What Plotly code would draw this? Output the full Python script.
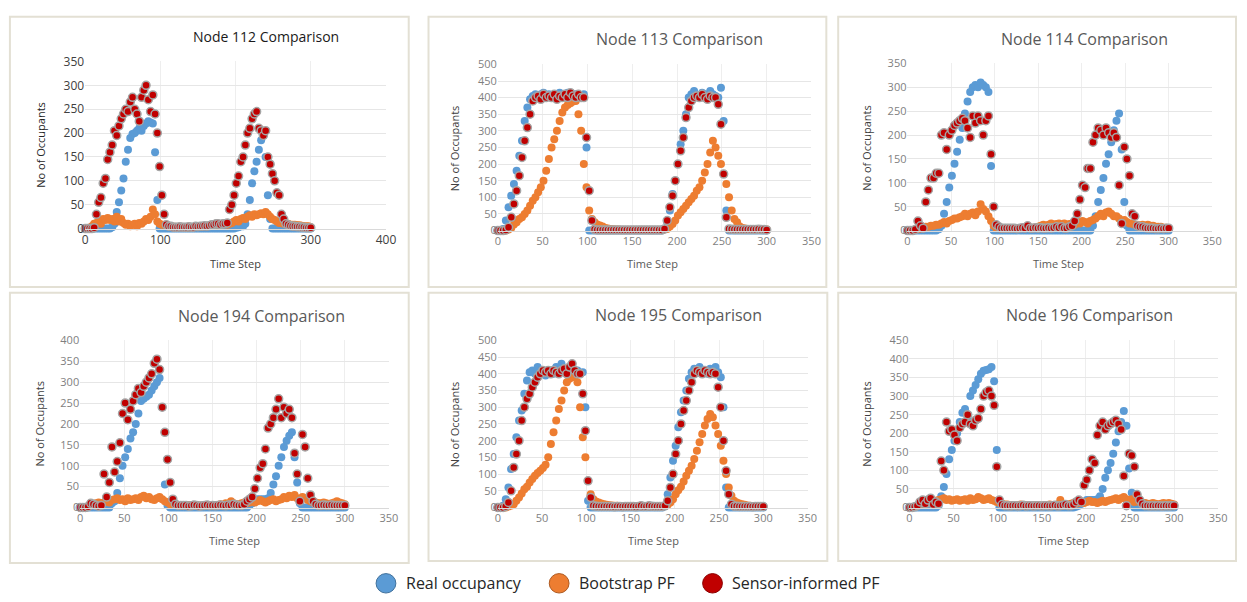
import plotly.graph_objects as go

W, H = 1247, 602
TIME = list(range(0, 301, 3))

# ---------------- Node 112 ----------------
n112_real = [0,0,0,0,0,0,0,0,0,0,
             0,0,3,10,35,55,80,105,140,165,
             190,198,200,205,210,205,215,220,225,222,
             220,160,60,0,0,0,0,0,0,0,
             0,0,0,0,0,0,0,0,0,0,
             0,0,0,0,0,0,0,0,0,0,
             0,0,0,0,0,0,0,2,3,5,
             5,10,30,60,95,120,140,165,185,200,
             150,70,20,0,0,0,0,0,0,0,
             0,0,0,0,0,0,0,0,0,0,
             0]
n112_boot = [0,0,2,5,10,12,15,10,20,18,
             22,18,20,15,25,15,20,12,8,10,
             5,8,10,5,12,10,15,20,18,25,
             40,30,15,10,8,8,6,5,5,4,
             4,3,3,3,3,2,3,3,3,4,
             4,5,5,5,6,6,7,7,8,8,
             8,9,10,8,10,12,15,18,15,20,
             22,20,25,28,25,30,28,30,32,30,
             35,30,25,20,18,15,12,12,10,10,
             10,8,8,8,7,7,6,5,5,5,
             3]
n112_sens = [0,0,0,0,2,30,55,65,95,105,
             145,160,175,205,195,215,230,240,250,245,
             265,275,250,240,225,275,290,300,270,245,
             280,240,200,130,70,30,8,5,5,3,
             3,3,4,3,3,3,4,3,3,5,
             4,5,5,6,5,6,8,8,10,10,
             8,10,10,12,40,50,70,95,110,140,
             150,175,200,210,230,240,245,210,205,195,
             205,150,135,115,100,75,70,30,20,10,
             8,6,5,5,4,4,3,3,2,2,
             2]

# ---------------- Node 113 ----------------
n113_real = [0,0,5,30,70,105,140,180,225,270,
             330,370,395,405,410,400,410,415,405,410,
             400,410,405,415,410,400,415,410,405,410,
             405,400,410,250,0,0,0,0,0,0,
             0,0,0,0,0,0,0,0,0,0,
             0,0,0,0,0,0,0,0,0,0,
             0,0,5,25,60,110,150,200,260,300,
             350,400,410,420,405,400,415,410,400,420,
             410,405,400,430,330,60,0,0,0,0,
             0,0,0,0,0,0,0,0,0,0,
             0]
n113_boot = [0,0,0,0,3,8,18,25,35,40,
             50,60,75,90,100,115,130,150,180,215,
             250,275,300,330,355,370,378,383,388,390,
             350,300,200,130,60,35,25,18,15,12,
             8,6,5,4,3,3,2,2,2,2,
             2,2,2,2,2,2,2,2,2,2,
             2,2,3,5,12,20,30,45,55,65,
             75,85,95,105,120,130,150,175,200,235,
             270,250,225,200,170,140,100,60,35,25,
             12,8,6,5,5,4,4,4,3,3,
             3]
n113_sens = [0,0,0,2,10,40,80,120,165,220,
             270,310,350,390,400,405,395,410,400,405,
             400,410,395,405,400,410,400,415,405,400,
             410,400,400,280,120,30,3,2,2,2,
             2,2,2,2,2,2,2,2,2,2,
             2,2,2,2,2,2,2,2,2,2,
             2,2,5,30,70,105,150,200,240,280,
             340,370,390,400,405,400,410,400,395,405,
             400,400,380,320,170,40,5,4,3,3,
             3,3,3,3,3,3,3,4,3,3,
             2]

# ---------------- Node 114 ----------------
n114_real = [0,0,0,0,0,0,0,0,0,0,
             0,0,3,10,35,60,90,115,140,165,
             190,215,245,270,290,300,305,300,310,305,
             300,290,135,0,0,0,0,0,0,0,
             0,0,0,0,0,0,0,0,0,0,
             0,0,0,0,0,0,0,0,0,0,
             0,0,0,0,0,0,0,0,0,0,
             0,10,30,60,85,110,140,160,185,210,
             230,245,170,60,10,0,0,0,0,0,
             0,0,0,0,0,0,0,0,0,0,
             0]
n114_boot = [0,0,0,2,3,5,5,8,8,10,
             10,12,12,15,18,15,20,22,25,25,
             28,30,35,30,35,38,32,40,55,45,
             40,30,20,10,5,5,4,5,5,4,
             5,5,4,5,6,5,6,5,6,6,
             8,10,12,10,12,15,12,14,15,12,
             15,12,14,15,12,18,15,20,18,15,
             20,22,25,30,35,30,38,40,35,30,
             30,25,20,22,18,15,15,12,12,10,
             12,10,12,10,10,8,8,8,6,6,
             5]
n114_sens = [0,0,0,2,20,10,5,60,85,110,
             110,120,120,200,205,170,200,210,220,225,
             230,235,230,215,195,240,225,240,230,200,
             230,240,160,50,12,8,5,5,5,5,
             5,5,4,5,6,5,10,5,5,6,
             5,6,5,5,6,5,6,8,6,8,
             5,5,8,10,20,35,65,95,90,130,
             130,185,200,215,210,200,215,205,195,205,
             195,95,15,175,150,115,35,30,10,8,
             8,6,5,5,5,4,4,5,4,5,
             5]

# ---------------- Node 194 ----------------
n194_real = [0,0,0,0,0,0,0,0,0,0,
             0,0,10,15,35,70,100,120,140,165,
             180,200,225,255,260,265,270,280,290,300,
             310,240,55,5,0,0,0,0,0,0,
             0,0,0,0,0,0,0,0,0,0,
             0,0,0,0,0,0,0,0,0,0,
             0,0,0,0,5,10,15,20,20,20,
             20,22,35,55,75,100,120,145,160,172,
             180,120,60,10,0,0,0,0,0,0,
             0,0,0,0,0,0,0,0,0,0,
             0]
n194_boot = [0,0,0,3,5,8,10,12,10,12,
             15,12,18,20,22,18,20,15,22,18,
             20,22,18,25,28,22,25,20,18,22,
             25,20,15,12,8,10,8,6,5,6,
             5,6,4,5,6,5,4,5,6,5,
             5,6,5,8,6,10,8,15,10,8,
             8,10,12,10,12,15,12,15,18,15,
             12,15,18,20,15,18,20,25,22,28,
             25,30,22,20,25,22,18,15,12,12,
             10,10,12,10,8,10,12,15,12,10,
             8]
n194_sens = [0,0,0,2,10,8,5,3,5,80,
             25,60,145,85,110,155,225,250,210,235,
             255,270,285,275,290,300,310,320,345,355,
             330,240,180,115,60,20,8,5,5,5,
             5,3,4,6,5,3,4,5,6,4,
             5,4,5,6,5,4,6,5,8,6,
             5,5,8,15,20,25,45,70,95,105,
             140,190,200,215,235,260,215,240,225,235,
             215,130,80,15,175,145,70,30,15,8,
             5,5,6,5,5,6,5,5,5,5,
             5]

# ---------------- Node 195 ----------------
n195_real = [0,0,5,25,60,115,160,210,260,290,
             340,380,405,410,400,420,410,400,395,405,
             410,400,420,405,430,410,400,415,405,410,
             410,400,405,300,20,0,0,0,0,0,
             0,0,0,0,0,0,0,0,0,0,
             0,0,0,0,0,0,0,0,0,0,
             0,0,0,5,40,90,140,185,240,285,
             320,350,385,405,415,410,420,405,410,400,
             415,410,420,405,390,300,60,0,0,0,
             0,0,0,0,0,0,0,0,0,0,
             0]
n195_boot = [0,0,0,0,3,6,10,20,30,42,
             55,62,75,85,95,103,110,118,128,150,
             190,225,260,295,320,350,375,385,390,393,
             375,300,210,150,80,40,25,18,15,12,
             10,8,7,6,5,5,4,4,3,3,
             3,3,3,3,3,3,3,3,3,3,
             3,3,3,5,8,15,25,40,52,62,
             78,95,110,125,145,170,195,220,245,265,
             280,270,245,220,185,140,100,60,35,20,
             15,12,10,8,6,5,4,4,3,3,
             3]
n195_sens = [0,0,0,3,15,50,120,160,200,260,
             300,325,340,360,375,390,400,410,405,410,
             400,410,405,400,410,415,400,420,430,410,
             400,400,340,230,80,30,5,4,3,3,
             3,3,3,3,2,3,3,2,3,3,
             3,3,2,3,5,3,3,5,4,3,
             3,3,3,5,20,60,100,160,200,250,
             290,320,350,375,400,410,405,400,410,405,
             400,405,400,360,300,200,110,40,10,4,
             4,3,3,3,3,3,2,3,3,3,
             3]

# ---------------- Node 196 ----------------
n196_real = [0,0,0,0,0,0,0,0,0,0,
             0,5,30,55,90,130,155,180,200,230,
             255,265,240,300,315,330,345,360,368,370,
             372,378,340,155,0,0,0,0,0,0,
             0,0,0,0,0,0,0,0,0,0,
             0,0,0,0,0,0,0,0,0,0,
             0,0,0,2,5,10,15,20,20,20,
             20,22,30,50,80,100,120,145,175,205,
             230,260,220,105,40,0,0,0,0,0,
             0,0,0,0,0,0,0,0,0,0,
             0]
n196_boot = [0,0,2,5,8,10,12,15,12,15,
             18,20,22,25,20,22,18,20,22,18,
             20,22,18,25,20,22,28,25,20,22,
             25,20,18,15,12,10,8,8,6,5,
             5,6,8,5,6,5,4,6,5,6,
             5,6,5,8,6,5,8,20,10,8,
             8,10,12,10,12,15,12,15,18,15,
             15,12,15,18,15,18,20,22,25,20,
             25,28,22,20,22,15,18,15,12,12,
             10,10,12,10,8,10,12,10,12,10,
             8]
n196_sens = [0,0,2,5,15,20,10,20,25,8,
             15,10,125,100,230,205,210,195,180,215,
             225,230,250,225,220,235,240,265,300,310,
             315,300,275,110,20,8,5,5,4,5,
             5,4,5,6,4,5,5,4,5,5,
             4,5,5,4,5,6,4,5,6,8,
             5,5,8,15,20,15,60,75,100,130,
             120,195,220,230,210,220,225,230,235,225,
             210,85,5,145,140,110,35,20,10,5,
             5,4,5,4,5,4,4,5,4,5,
             5]

SERIES_NAMES = ["Real occupancy", "Bootstrap PF", "Sensor-informed PF"]
BLUE, ORANGE, RED, GREY = "#5B9BD5", "#ED7D31", "#C00000", "#A5A5A5"

PANELS = [
    dict(title="Node 112 Comparison", real=n112_real, boot=n112_boot, sens=n112_sens,
         xmax=400, xd=100, ymax=350, px=(83, 387), py=(226, 54), box=(7, 8, 410, 286),
         t=(266, 28), yt=(37, 140), xt=(235, 262), dark=True),
    dict(title="Node 113 Comparison", real=n113_real, boot=n113_boot, sens=n113_sens,
         xmax=350, xd=50, ymax=500, px=(500, 817), py=(228, 57), box=(430, 8, 832, 286),
         t=(684, 31), yt=(457, 143), xt=(656, 262), dark=False),
    dict(title="Node 114 Comparison", real=n114_real, boot=n114_boot, sens=n114_sens,
         xmax=350, xd=50, ymax=350, px=(914, 1222), py=(228, 56), box=(844, 8, 1246, 286),
         t=(1093, 31), yt=(873, 143), xt=(1067, 262), dark=False),
    dict(title="Node 194 Comparison", real=n194_real, boot=n194_boot, sens=n194_sens,
         xmax=350, xd=50, ymax=400, px=(78, 390), py=(513, 341), box=(7, 292, 410, 570),
         t=(261, 316), yt=(37, 427), xt=(234, 547), dark=False),
    dict(title="Node 195 Comparison", real=n195_real, boot=n195_boot, sens=n195_sens,
         xmax=350, xd=50, ymax=500, px=(500, 813), py=(513, 341), box=(430, 292, 833, 568),
         t=(683, 315), yt=(457, 427), xt=(657, 547), dark=False),
    dict(title="Node 196 Comparison", real=n196_real, boot=n196_boot, sens=n196_sens,
         xmax=350, xd=50, ymax=450, px=(916, 1228), py=(513, 341), box=(844, 292, 1246, 568),
         t=(1098, 315), yt=(873, 427), xt=(1072, 547), dark=False),
]

FONT = "Open Sans"

def fx(p):
    return p / W

def fy(p):
    return 1 - p / H

fig = go.Figure()
layout = dict(autosize=True, margin=dict(l=0, r=0, t=0, b=0, pad=0),
              paper_bgcolor="white", plot_bgcolor="white", showlegend=False,
              font=dict(family=FONT))
annotations = []
shapes = []

for i, p in enumerate(PANELS, start=1):
    xa = "x" if i == 1 else f"x{i}"
    ya = "y" if i == 1 else f"y{i}"
    tickcol = "#404040" if p["dark"] else "#7f7f7f"
    tsize = 12 if p["dark"] else 11
    for vals, col, nm in ((p["real"], BLUE, SERIES_NAMES[0]),
                          (p["boot"], ORANGE, SERIES_NAMES[1])):
        fig.add_trace(go.Scatter(x=TIME, y=vals, mode="markers", name=nm,
                                 xaxis=xa, yaxis=ya, cliponaxis=False,
                                 marker=dict(color=col, size=8, line=dict(width=0))))
    fig.add_trace(go.Scatter(x=TIME, y=p["sens"], mode="markers", name=SERIES_NAMES[2],
                             xaxis=xa, yaxis=ya, cliponaxis=False,
                             marker=dict(color=RED, size=8, line=dict(width=1.5, color=GREY))))
    xkey = "xaxis" if i == 1 else f"xaxis{i}"
    ykey = "yaxis" if i == 1 else f"yaxis{i}"
    layout[xkey] = dict(domain=[fx(p["px"][0]), fx(p["px"][1])], range=[0, p["xmax"]],
                        anchor=ya, dtick=p["xd"], tick0=0, showgrid=True,
                        gridcolor="#eeeeee", zeroline=False, showline=True,
                        linecolor="#d9d9d9", ticks="", ticklen=0,
                        tickfont=dict(size=tsize, color=tickcol, family=FONT))
    layout[ykey] = dict(domain=[fy(p["py"][0]), fy(p["py"][1])], range=[0, p["ymax"]],
                        anchor=xa, dtick=50, tick0=0, showgrid=True,
                        gridcolor="#e6e6e6", zeroline=False, showline=False, ticks="",
                        tickfont=dict(size=tsize, color=tickcol, family=FONT))
    b = p["box"]
    shapes.append(dict(type="rect", xref="paper", yref="paper",
                       x0=fx(b[0]), x1=fx(b[2]), y0=fy(b[3]), y1=fy(b[1]),
                       line=dict(color="#e3e0d4", width=2), fillcolor="rgba(0,0,0,0)",
                       layer="below"))
    annotations.append(dict(text=p["title"], x=fx(p["t"][0]), y=fy(p["t"][1]),
                            xref="paper", yref="paper", showarrow=False,
                            xanchor="center", yanchor="middle",
                            font=dict(size=14 if p["dark"] else 16,
                                      color="#1a1a1a" if p["dark"] else "#595959",
                                      family=FONT)))
    annotations.append(dict(text="No of Occupants", x=fx(p["yt"][0]), y=fy(p["yt"][1]),
                            xref="paper", yref="paper", showarrow=False, textangle=-90,
                            xanchor="center", yanchor="middle",
                            font=dict(size=11, color="#262626" if p["dark"] else "#404040",
                                      family=FONT)))
    annotations.append(dict(text="Time Step", x=fx(p["xt"][0]), y=fy(p["xt"][1]),
                            xref="paper", yref="paper", showarrow=False,
                            xanchor="center", yanchor="middle",
                            font=dict(size=11, color="#404040" if p["dark"] else "#595959",
                                      family=FONT)))

LEG = [(387, 405, BLUE, "#41719C", SERIES_NAMES[0]),
       (562, 580, ORANGE, "#AE5A21", SERIES_NAMES[1]),
       (717, 735, RED, "#8B0000", SERIES_NAMES[2])]
LY, R = 591, 10
for cx, tx, col, edge, nm in LEG:
    shapes.append(dict(type="circle", xref="paper", yref="paper",
                       x0=fx(cx - R), x1=fx(cx + R), y0=fy(LY + R), y1=fy(LY - R),
                       fillcolor=col, line=dict(color=edge, width=1)))
    annotations.append(dict(text=nm, x=fx(tx), y=fy(LY), xref="paper", yref="paper",
                            showarrow=False, xanchor="left", yanchor="middle",
                            font=dict(size=16, color="#262626", family=FONT)))

layout["annotations"] = annotations
layout["shapes"] = shapes
fig.update_layout(**layout)
fig.write_html("out.html", config={"displayModeBar": False, "responsive": True},
               default_width="100vw", default_height="100vh",
               post_script="document.body.style.margin='0';"
                           "document.documentElement.style.overflow='hidden';"
                           "document.body.style.overflow='hidden';"
                           "window.dispatchEvent(new Event('resize'));")
